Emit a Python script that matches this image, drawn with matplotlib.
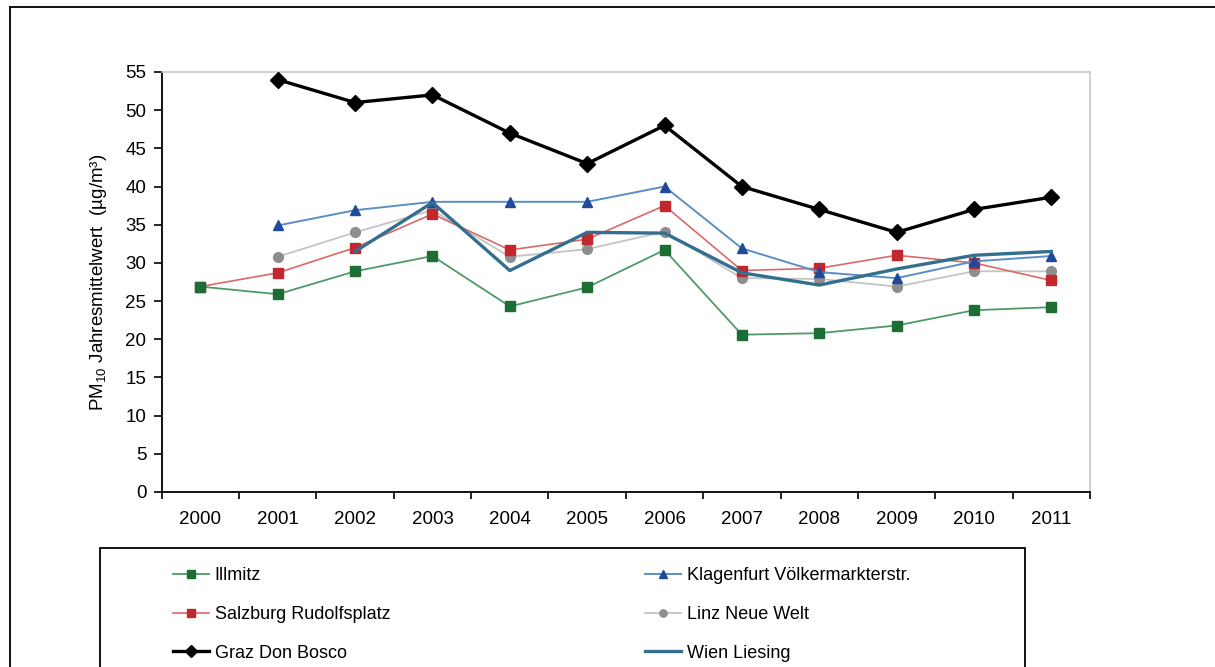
import matplotlib
matplotlib.use("Agg")
import matplotlib.pyplot as plt
from matplotlib.lines import Line2D
from matplotlib.patches import Rectangle
import numpy as np

plt.rcParams['font.family'] = ['Liberation Sans', 'DejaVu Sans']

# ----------------------------
# Data (PM10 annual means, µg/m³)
# ----------------------------
years = list(range(2000, 2012))

illmitz = [26.9, 25.9, 28.9, 30.9, 24.3, 26.8, 31.7, 20.6, 20.8, 21.8, 23.8, 24.2]
klagenfurt = [None, 34.9, 36.9, 38.0, 38.0, 38.0, 40.0, 31.9, 28.8, 28.0, 30.2, 30.9]
salzburg = [26.9, 28.7, 32.0, 36.4, 31.7, 33.1, 37.5, 29.0, 29.3, 31.0, 30.0, 27.7]
linz = [None, 30.8, 34.0, 36.9, 30.8, 31.8, 34.1, 28.0, 27.9, 26.9, 28.9, 28.9]
graz = [None, 54.0, 51.0, 52.0, 47.0, 43.0, 48.0, 40.0, 37.0, 34.0, 37.0, 38.6]
wien = [None, None, 31.5, 37.9, 29.0, 34.0, 33.9, 28.7, 27.1, 29.2, 31.0, 31.5]

yticks = list(range(0, 60, 5))


def arr(v):
    return np.array([np.nan if x is None else x for x in v], dtype=float)


# ----------------------------
# Figure / axes layout
# ----------------------------
W, H = 1215, 667
fig = plt.figure(figsize=(W / 100, H / 100), dpi=100)
fig.patch.set_facecolor("white")

ax = fig.add_axes([161.7 / W, 1 - 492 / H, (1090 - 161.7) / W, (492 - 72) / H])

x = np.array(years)

ax.plot(x, arr(linz), color="#c4c4c4", lw=1.3, marker="o", ms=7,
        mfc="#8e8e8e", mec="#8e8e8e", label="Linz Neue Welt", zorder=3)
ax.plot(x, arr(salzburg), color="#d86a6a", lw=1.2, marker="s", ms=7,
        mfc="#c1272d", mec="#c1272d", label="Salzburg Rudolfsplatz", zorder=4)
ax.plot(x, arr(illmitz), color="#4f9a68", lw=1.3, marker="s", ms=7,
        mfc="#1c6e35", mec="#1c6e35", label="Illmitz", zorder=4)
ax.plot(x, arr(klagenfurt), color="#5b8fc4", lw=1.4, marker="^", ms=7,
        mfc="#1f4a9a", mec="#1f4a9a", label="Klagenfurt Völkermarkterstr.", zorder=5)
ax.plot(x, arr(wien), color="#336f8f", lw=2.4, label="Wien Liesing", zorder=5)
ax.plot(x, arr(graz), color="black", lw=2.4, marker="D", ms=8,
        mfc="black", mec="black", label="Graz Don Bosco", zorder=6)

ax.set_xlim(1999.5, 2011.5)
ax.set_ylim(0, 55)
ax.set_yticks(yticks)
ax.set_xticks(x)
ax.set_xticklabels([str(y) for y in years])
ax.set_xticks(np.arange(1999.5, 2012, 1), minor=True)
ax.tick_params(axis="x", which="major", length=0, pad=14, labelsize=13.5)
ax.tick_params(axis="x", which="minor", length=5, width=1.2, direction="out")
ax.tick_params(axis="y", length=6, width=1.2, direction="out", labelsize=13.5, pad=5)

for side in ("top", "right"):
    ax.spines[side].set_color("#c8c8c8")
    ax.spines[side].set_linewidth(1.2)
for side in ("left", "bottom"):
    ax.spines[side].set_color("black")
    ax.spines[side].set_linewidth(1.3)

ax.set_ylabel("PM$_\\mathregular{10}$ Jahresmittelwert  (µg/m³)", fontsize=13.5, labelpad=12)

# ----------------------------
# Legend (two columns, drawn as two legends in a shared box)
# ----------------------------
handles = {l.get_label(): l for l in ax.get_lines()}
left_col = ["Illmitz", "Salzburg Rudolfsplatz", "Graz Don Bosco"]
right_col = ["Klagenfurt Völkermarkterstr.", "Linz Neue Welt", "Wien Liesing"]

leg_kw = dict(frameon=False, fontsize=13, handlelength=2.0, handletextpad=0.3,
              labelspacing=1.2, borderaxespad=0, markerscale=0.75)
fig.legend([handles[k] for k in left_col], left_col, loc="upper left",
           bbox_to_anchor=(166 / W, 1 - 560 / H), **leg_kw)
fig.legend([handles[k] for k in right_col], right_col, loc="upper left",
           bbox_to_anchor=(638 / W, 1 - 560 / H), **leg_kw)

fig.patches.append(Rectangle((100 / W, -0.05), (1025 - 100) / W, (667 - 548) / H + 0.05,
                             transform=fig.transFigure, fill=False,
                             edgecolor="black", lw=1.3))

# outer chart frame (top and left edge)
fig.lines.append(Line2D([10 / W, 1.0], [1 - 7 / H, 1 - 7 / H],
                        transform=fig.transFigure, color="black", lw=1.3))
fig.lines.append(Line2D([10 / W, 10 / W], [0, 1 - 7 / H],
                        transform=fig.transFigure, color="black", lw=1.3))

fig.savefig("out.png", dpi=100)
